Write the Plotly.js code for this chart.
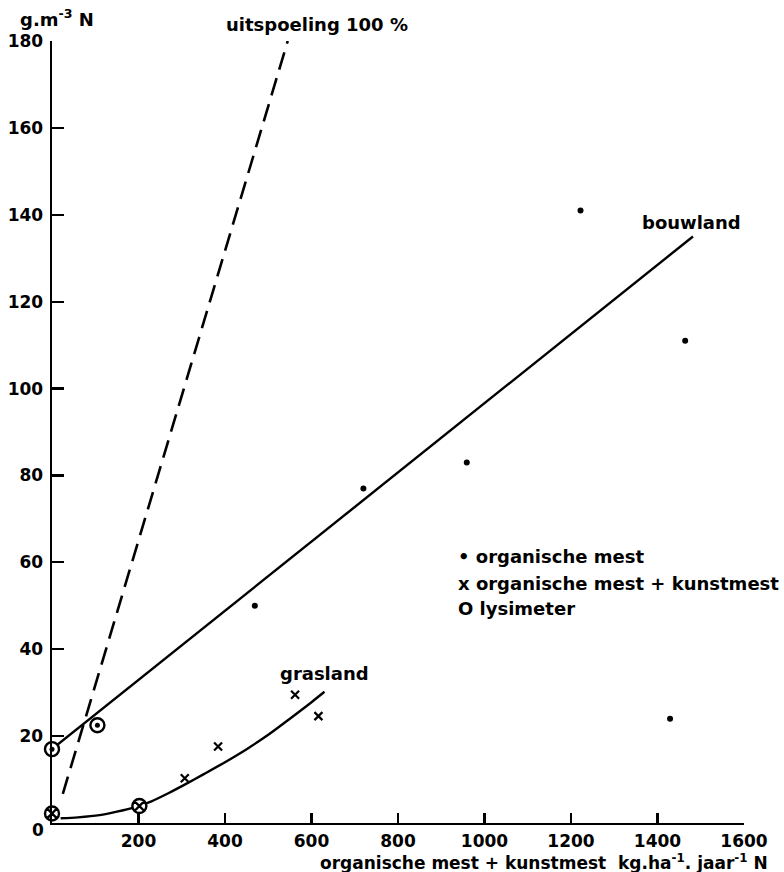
<!DOCTYPE html>
<html>
<head>
<meta charset="utf-8">
<script src="https://cdn.plot.ly/plotly-3.0.1.min.js"></script>
<style>
  html, body { margin: 0; padding: 0; background: #fff; }
  #chart { width: 784px; height: 872px; }
</style>
</head>
<body>
<div id="chart"></div>
<script>
// Nitrate-N concentration in drainage water against N input
// (organic manure + fertiliser, kg/ha/year N)

// organische mest (dots)
const orgX = [469, 720, 959, 1222, 1464, 1429];
const orgY = [50, 77, 83, 141, 111, 24];

// organische mest + kunstmest (crosses)
const kunstX = [307, 384, 562, 616];
const kunstY = [10.3, 17.6, 29.5, 24.6];

// lysimeter results (open circles, with dot or cross inside)
const lysDotX = [0, 105];
const lysDotY = [17, 22.5];
const lysCrossX = [0, 202];
const lysCrossY = [2.2, 3.9];

// fitted line for bouwland (arable land)
const bouwX = [0, 1482];
const bouwY = [17, 135];

// curve for grasland
const grasX = [20, 60, 110, 150, 190, 230, 270, 310, 350, 400, 450, 500, 550, 600, 630];
const grasY = [1.1, 1.3, 1.8, 2.6, 3.6, 5.0, 6.9, 9.0, 11.2, 14.0, 17.0, 20.3, 24.0, 27.8, 30.2];

// 100 % leaching reference line
const uitX = [25, 545];
const uitY = [6.7, 180];

// axis ticks
const xTicks = [200, 400, 600, 800, 1000, 1200, 1400, 1600];
const yTicks = [20, 40, 60, 80, 100, 120, 140, 160, 180];

const FONT = 'DejaVu Sans';
const INK = '#000';

const traces = [
  {
    x: uitX, y: uitY, mode: 'lines', type: 'scatter',
    line: { color: INK, width: 2.6, dash: '18px,9px' }, hoverinfo: 'skip'
  },
  {
    x: bouwX, y: bouwY, mode: 'lines', type: 'scatter',
    line: { color: INK, width: 2.4 }, hoverinfo: 'skip'
  },
  {
    x: grasX, y: grasY, mode: 'lines', type: 'scatter',
    line: { color: INK, width: 2.4, shape: 'spline', smoothing: 0.8 }, hoverinfo: 'skip'
  },
  {
    x: orgX, y: orgY, mode: 'markers', type: 'scatter',
    marker: { symbol: 'circle', size: 6, color: INK }
  },
  {
    x: kunstX, y: kunstY, mode: 'markers', type: 'scatter',
    marker: { symbol: 'x-thin', size: 8, line: { color: INK, width: 2.2 } }
  },
  {
    x: lysDotX, y: lysDotY, mode: 'markers', type: 'scatter', cliponaxis: false,
    marker: { symbol: 'circle', size: 14, color: '#fff', line: { color: INK, width: 2.4 } }
  },
  {
    x: lysDotX, y: lysDotY, mode: 'markers', type: 'scatter', cliponaxis: false,
    marker: { symbol: 'circle', size: 5, color: INK }
  },
  {
    x: lysCrossX, y: lysCrossY, mode: 'markers', type: 'scatter', cliponaxis: false,
    marker: { symbol: 'circle-x', size: 14, color: '#fff', line: { color: INK, width: 2.4 } }
  }
];

function label(text, x, y, xanchor, size) {
  return {
    text: text, xref: 'paper', yref: 'paper', x: x, y: y,
    xanchor: xanchor || 'left', yanchor: 'middle', showarrow: false,
    font: { family: FONT, size: size || 18, color: INK, weight: 'bold' }
  };
}

const layout = {
  width: 784, height: 872,
  margin: { l: 52, r: 40, t: 41, b: 49 },
  paper_bgcolor: '#fff', plot_bgcolor: '#fff',
  showlegend: false,
  font: { family: FONT, size: 17, color: INK, weight: 'bold' },
  xaxis: {
    range: [0, 1600], tickvals: xTicks, ticktext: xTicks.map(String),
    showgrid: false, zeroline: false,
    showline: true, linecolor: INK, linewidth: 2.4,
    ticks: 'inside', ticklen: 10, tickwidth: 2.2, tickcolor: INK,
    tickfont: { family: FONT, size: 17, color: INK, weight: 'bold' },
    ticklabelstandoff: 1, fixedrange: true
  },
  yaxis: {
    range: [0, 180], tickvals: yTicks, ticktext: yTicks.map(String),
    showgrid: false, zeroline: false,
    showline: true, linecolor: INK, linewidth: 2.4,
    ticks: 'inside', ticklen: 12, tickwidth: 2.2, tickcolor: INK,
    tickfont: { family: FONT, size: 17, color: INK, weight: 'bold' },
    ticklabelstandoff: 3, fixedrange: true
  },
  annotations: [
    label('g.m<sup>-3</sup> N', -0.049, 1.029),
    label('uitspoeling 100 %', 0.248, 1.0205),
    label('bouwland', 0.8497, 0.7673),
    label('grasland', 0.3266, 0.1918),
    label('• organische mest', 0.5838, 0.3402),
    label('x organische mest + kunstmest', 0.5838, 0.3069),
    label('O lysimeter', 0.5838, 0.2737),
    label('0', -0.0202, -0.009, 'center', 17),
    label('organische mest + kunstmest  kg.ha<sup>-1</sup>. jaar<sup>-1</sup> N', 1.0376, -0.0495, 'right', 17)
  ]
};

Plotly.newPlot('chart', traces, layout, { staticPlot: true, displayModeBar: false });
</script>
</body>
</html>
